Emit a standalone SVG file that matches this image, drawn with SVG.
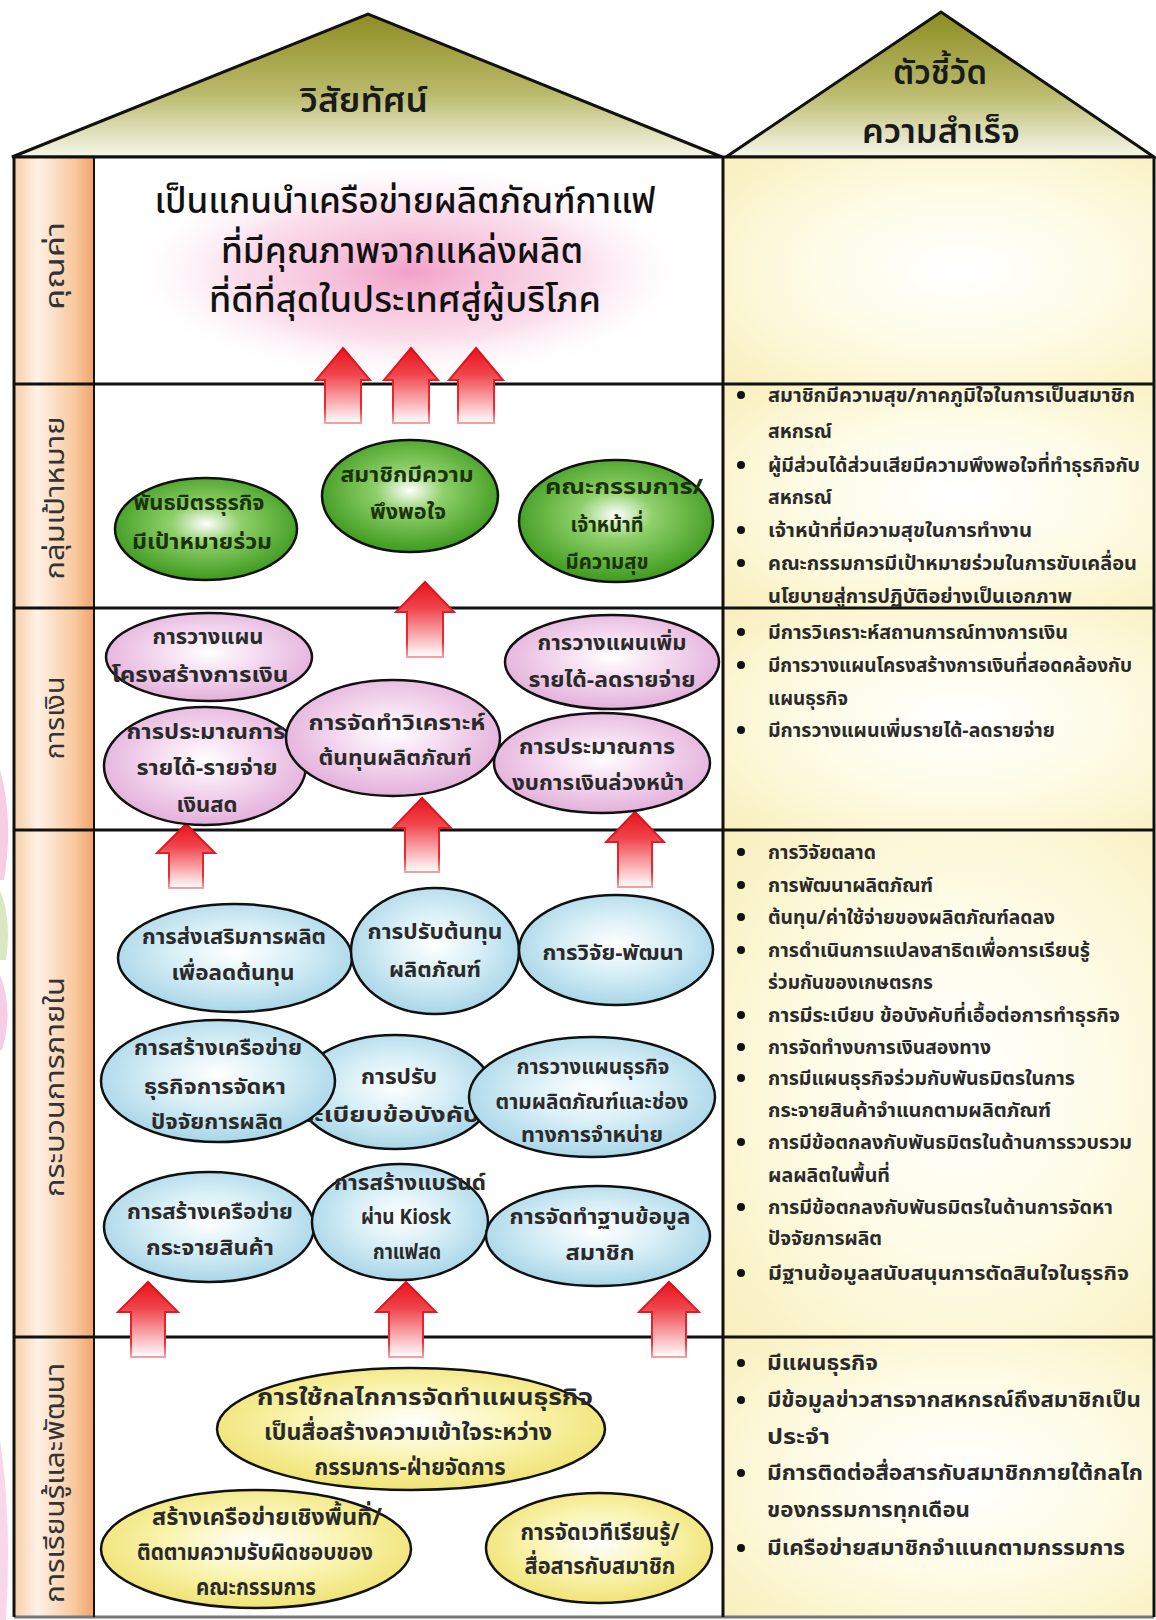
<svg xmlns="http://www.w3.org/2000/svg" width="1156" height="1620" viewBox="0 0 1156 1620">
<defs>
<style>
text{font-family:"Noto Sans Thai","Noto Sans","DejaVu Sans",sans-serif;}
.roofT{font-size:33px;font-weight:600;fill:#1a1a1a;text-anchor:middle;}
.vis{font-size:36px;font-weight:500;fill:#111;text-anchor:middle;}
.lbl{font-size:26px;fill:#333;text-anchor:middle;}
.nt{font-size:21px;font-weight:bold;fill:#2a2a2a;text-anchor:middle;}
.yt{font-size:23px;font-weight:bold;fill:#2a2a2a;text-anchor:middle;}
.gt{font-size:21px;font-weight:bold;fill:#1b330a;text-anchor:middle;}
.bt{font-size:19.5px;font-weight:bold;fill:#2a2a2a;}
.bt5{font-size:20.5px;font-weight:bold;fill:#2a2a2a;}
.ell{stroke:#111;stroke-width:2.5;}
.arrow{fill:url(#gArrow);stroke:url(#gArrowS);stroke-width:2;}
.grid{stroke:#111;stroke-width:3;fill:none;}
.dot{fill:#111;}
</style>
<linearGradient id="gRoof" x1="0" y1="0" x2="0" y2="1">
<stop offset="0" stop-color="#8d8d22"/>
<stop offset="0.55" stop-color="#b9b96a"/>
<stop offset="1" stop-color="#f7f7ea"/>
</linearGradient>
<linearGradient id="gLabel" x1="0" y1="0" x2="1" y2="0">
<stop offset="0" stop-color="#f8cfa8"/>
<stop offset="0.3" stop-color="#fdf1e6"/>
<stop offset="0.75" stop-color="#f9c99f"/>
<stop offset="1" stop-color="#f0a46a"/>
</linearGradient>
<radialGradient id="gCream" cx="0.55" cy="0.5" r="0.75">
<stop offset="0" stop-color="#ffffff"/>
<stop offset="0.5" stop-color="#fefbe4"/>
<stop offset="1" stop-color="#f8efbc"/>
</radialGradient>
<radialGradient id="gGlow" cx="0.5" cy="0.5" r="0.5">
<stop offset="0" stop-color="#f19cc6" stop-opacity="0.95"/>
<stop offset="0.6" stop-color="#f8c8de" stop-opacity="0.6"/>
<stop offset="1" stop-color="#ffffff" stop-opacity="0"/>
</radialGradient>
<radialGradient id="gGreen" cx="0.5" cy="0.45" r="0.55">
<stop offset="0" stop-color="#ffffff"/>
<stop offset="0.35" stop-color="#8fd06a"/>
<stop offset="1" stop-color="#3e9a1e"/>
</radialGradient>
<radialGradient id="gPink" cx="0.5" cy="0.45" r="0.55">
<stop offset="0" stop-color="#ffffff"/>
<stop offset="0.5" stop-color="#f3d6ee"/>
<stop offset="1" stop-color="#e3b0da"/>
</radialGradient>
<radialGradient id="gBlue" cx="0.5" cy="0.45" r="0.55">
<stop offset="0" stop-color="#ffffff"/>
<stop offset="0.5" stop-color="#d6eef6"/>
<stop offset="1" stop-color="#a9d6e8"/>
</radialGradient>
<radialGradient id="gYellow" cx="0.5" cy="0.45" r="0.55">
<stop offset="0" stop-color="#ffffff"/>
<stop offset="0.5" stop-color="#faf5b4"/>
<stop offset="1" stop-color="#efe374"/>
</radialGradient>
<linearGradient id="gArrow" x1="0" y1="0" x2="0" y2="1">
<stop offset="0" stop-color="#e8141c"/>
<stop offset="0.35" stop-color="#f0444c"/>
<stop offset="1" stop-color="#ffffff"/>
</linearGradient>
<linearGradient id="gArrowS" x1="0" y1="0" x2="0" y2="1">
<stop offset="0" stop-color="#d90f17"/>
<stop offset="0.8" stop-color="#ee2a32"/>
<stop offset="1" stop-color="#f7a0a4"/>
</linearGradient>
</defs>

<rect x="0" y="0" width="1156" height="1620" fill="#ffffff"/>

<!-- left margin decoration -->
<g id="decor" opacity="0.7">
<path d="M0,770 Q14,820 4,880 L0,880 Z" fill="#f4b8d8"/>
<path d="M0,890 Q12,920 6,960 L0,960 Z" fill="#c8e0a8"/>
<path d="M0,975 Q14,1010 2,1050 L0,1050 Z" fill="#f4b8d8"/>
<path d="M0,1440 Q12,1520 6,1620 L0,1620 Z" fill="#f6c4de"/>
</g>

<!-- roofs -->
<g id="roof-vision">
<polygon points="12,157 368,14 722,157" fill="url(#gRoof)" stroke="#111" stroke-width="3"/>
<text class="roofT" x="364" y="112" textLength="128" lengthAdjust="spacingAndGlyphs">วิสัยทัศน์</text>
</g>
<g id="roof-kpi">
<polygon points="726,157 941,12 1154,157" fill="url(#gRoof)" stroke="#111" stroke-width="3"/>
<text class="roofT" x="940" y="84" textLength="94" lengthAdjust="spacingAndGlyphs">ตัวชี้วัด</text>
<text class="roofT" x="941" y="143" textLength="158" lengthAdjust="spacingAndGlyphs">ความสำเร็จ</text>
</g>

<!-- cells -->
<g id="columns">
<rect x="14" y="157" width="80" height="1460" fill="url(#gLabel)"/>
<rect x="94" y="157" width="628" height="1460" fill="#ffffff"/>
<rect x="724" y="157" width="430" height="227" fill="url(#gCream)"/>
<rect x="724" y="384" width="430" height="224" fill="url(#gCream)"/>
<rect x="724" y="608" width="430" height="222" fill="url(#gCream)"/>
<rect x="724" y="830" width="430" height="507" fill="url(#gCream)"/>
<rect x="724" y="1337" width="430" height="280" fill="url(#gCream)"/>
<ellipse cx="410" cy="272" rx="290" ry="112" fill="url(#gGlow)"/>
</g>

<!-- grid -->
<g id="gridlines">
<line class="grid" x1="14" y1="157" x2="1154" y2="157"/>
<line class="grid" x1="14" y1="384" x2="1154" y2="384"/>
<line class="grid" x1="14" y1="608" x2="1154" y2="608"/>
<line class="grid" x1="14" y1="830" x2="1154" y2="830"/>
<line class="grid" x1="14" y1="1337" x2="1154" y2="1337"/>
<line x1="14" y1="1617" x2="1154" y2="1617" stroke="#777" stroke-width="3"/>
<line class="grid" x1="14" y1="157" x2="14" y2="1617"/>
<line x1="94" y1="157" x2="94" y2="1617" stroke="#111" stroke-width="2"/>
<line class="grid" x1="723" y1="157" x2="723" y2="1617"/>
<line class="grid" x1="1154" y1="157" x2="1154" y2="1617"/>
</g>

<!-- row labels -->
<g id="labels">
<text class="lbl" transform="translate(64,266) rotate(-90)" textLength="88" lengthAdjust="spacingAndGlyphs">คุณค่า</text>
<text class="lbl" transform="translate(64,498) rotate(-90)" textLength="163" lengthAdjust="spacingAndGlyphs">กลุ่มเป้าหมาย</text>
<text class="lbl" transform="translate(64,718) rotate(-90)" textLength="83" lengthAdjust="spacingAndGlyphs">การเงิน</text>
<text class="lbl" transform="translate(64,1087) rotate(-90)" textLength="220" lengthAdjust="spacingAndGlyphs">กระบวนการภายใน</text>
<text class="lbl" transform="translate(64,1483) rotate(-90)" textLength="240" lengthAdjust="spacingAndGlyphs">การเรียนรู้และพัฒนา</text>
</g>

<!-- vision -->
<g id="vision">
<text class="vis" x="405" y="213" textLength="501" lengthAdjust="spacingAndGlyphs">เป็นแกนนำเครือข่ายผลิตภัณฑ์กาแฟ</text>
<text class="vis" x="402" y="263" textLength="362" lengthAdjust="spacingAndGlyphs">ที่มีคุณภาพจากแหล่งผลิต</text>
<text class="vis" x="405" y="312" textLength="392" lengthAdjust="spacingAndGlyphs">ที่ดีที่สุดในประเทศสู่ผู้บริโภค</text>
</g>

<!-- connectors (block arrows) -->
<g id="connectors">
<path class="arrow" d="M343,348 L370,380 L361,380 L361,423 L325,423 L325,380 L316,380 Z"/>
<path class="arrow" d="M411,348 L438,380 L429,380 L429,423 L393,423 L393,380 L384,380 Z"/>
<path class="arrow" d="M476,348 L503,380 L494,380 L494,423 L458,423 L458,380 L449,380 Z"/>
<path class="arrow" d="M425,582 L454,612 L443,612 L443,657 L407,657 L407,612 L396,612 Z"/>
<path class="arrow" d="M186,824 L215,853 L203,853 L203,888 L169,888 L169,853 L157,853 Z"/>
<path class="arrow" d="M422,798 L451,828 L439,828 L439,872 L405,872 L405,828 L393,828 Z"/>
<path class="arrow" d="M635,812 L664,842 L652,842 L652,887 L618,887 L618,842 L606,842 Z"/>
<path class="arrow" d="M148,1282 L178,1312 L165,1312 L165,1357 L131,1357 L131,1312 L118,1312 Z"/>
<path class="arrow" d="M406,1282 L436,1312 L423,1312 L423,1357 L389,1357 L389,1312 L376,1312 Z"/>
<path class="arrow" d="M669,1282 L699,1312 L686,1312 L686,1357 L652,1357 L652,1312 L639,1312 Z"/>
</g>

<!-- customer row (green) -->
<g id="g1">
<ellipse class="ell" cx="206" cy="529" rx="91" ry="51" fill="url(#gGreen)"/>
<text class="gt" x="199" y="510" textLength="131" lengthAdjust="spacingAndGlyphs">พันธมิตรธุรกิจ</text>
<text class="gt" x="202" y="549" textLength="140" lengthAdjust="spacingAndGlyphs">มีเป้าหมายร่วม</text>
</g>
<g id="g2">
<ellipse class="ell" cx="410" cy="496" rx="88" ry="56" fill="url(#gGreen)"/>
<text class="gt" x="407" y="482" textLength="133" lengthAdjust="spacingAndGlyphs">สมาชิกมีความ</text>
<text class="gt" x="408" y="519" textLength="76" lengthAdjust="spacingAndGlyphs">พึงพอใจ</text>
</g>
<g id="g3">
<ellipse class="ell" cx="616" cy="521" rx="97" ry="61" fill="url(#gGreen)"/>
<text class="gt" x="624" y="494" textLength="158" lengthAdjust="spacingAndGlyphs">คณะกรรมการ/</text>
<text class="gt" x="607" y="532" textLength="73" lengthAdjust="spacingAndGlyphs">เจ้าหน้าที่</text>
<text class="gt" x="607" y="569" textLength="83" lengthAdjust="spacingAndGlyphs">มีความสุข</text>
</g>

<!-- finance row (pink) -->
<g id="p1">
<ellipse class="ell" cx="209" cy="657" rx="103" ry="44" fill="url(#gPink)"/>
<text class="nt" x="208" y="644" textLength="111" lengthAdjust="spacingAndGlyphs">การวางแผน</text>
<text class="nt" x="200" y="682" textLength="177" lengthAdjust="spacingAndGlyphs">โครงสร้างการเงิน</text>
</g>
<g id="p2">
<ellipse class="ell" cx="612" cy="662" rx="107" ry="47" fill="url(#gPink)"/>
<text class="nt" x="612" y="650" textLength="149" lengthAdjust="spacingAndGlyphs">การวางแผนเพิ่ม</text>
<text class="nt" x="612" y="687" textLength="167" lengthAdjust="spacingAndGlyphs">รายได้-ลดรายจ่าย</text>
</g>
<g id="p3">
<ellipse class="ell" cx="205" cy="766" rx="101" ry="59" fill="url(#gPink)"/>
<text class="nt" x="206" y="739" textLength="159" lengthAdjust="spacingAndGlyphs">การประมาณการ</text>
<text class="nt" x="207" y="775" textLength="141" lengthAdjust="spacingAndGlyphs">รายได้-รายจ่าย</text>
<text class="nt" x="207" y="812" textLength="61" lengthAdjust="spacingAndGlyphs">เงินสด</text>
</g>
<g id="p4">
<ellipse class="ell" cx="393" cy="738" rx="107" ry="58" fill="url(#gPink)"/>
<text class="nt" x="397" y="730" textLength="177" lengthAdjust="spacingAndGlyphs">การจัดทำวิเคราะห์</text>
<text class="nt" x="395" y="765" textLength="153" lengthAdjust="spacingAndGlyphs">ต้นทุนผลิตภัณฑ์</text>
</g>
<g id="p5">
<ellipse class="ell" cx="602" cy="763" rx="108" ry="50" fill="url(#gPink)"/>
<text class="nt" x="597" y="754" textLength="156" lengthAdjust="spacingAndGlyphs">การประมาณการ</text>
<text class="nt" x="598" y="790" textLength="172" lengthAdjust="spacingAndGlyphs">งบการเงินล่วงหน้า</text>
</g>

<!-- internal process row (blue) -->
<g id="b1">
<ellipse class="ell" cx="235" cy="958" rx="117" ry="54" fill="url(#gBlue)"/>
<text class="nt" x="234" y="944" textLength="184" lengthAdjust="spacingAndGlyphs">การส่งเสริมการผลิต</text>
<text class="nt" x="233" y="980" textLength="123" lengthAdjust="spacingAndGlyphs">เพื่อลดต้นทุน</text>
</g>
<g id="b2">
<ellipse class="ell" cx="435" cy="951" rx="84" ry="63" fill="url(#gBlue)"/>
<text class="nt" x="435" y="939" textLength="135" lengthAdjust="spacingAndGlyphs">การปรับต้นทุน</text>
<text class="nt" x="435" y="977" textLength="92" lengthAdjust="spacingAndGlyphs">ผลิตภัณฑ์</text>
</g>
<g id="b3">
<ellipse class="ell" cx="616" cy="950" rx="97" ry="55" fill="url(#gBlue)"/>
<text class="nt" x="613" y="960" textLength="141" lengthAdjust="spacingAndGlyphs">การวิจัย-พัฒนา</text>
</g>
<g id="b5">
<ellipse class="ell" cx="395" cy="1092" rx="98" ry="57" fill="url(#gBlue)"/>
<text class="nt" x="399" y="1084" textLength="76" lengthAdjust="spacingAndGlyphs">การปรับ</text>
<text class="nt" x="390" y="1122" textLength="179" lengthAdjust="spacingAndGlyphs">ระเบียบข้อบังคับ</text>
</g>
<g id="b4">
<ellipse class="ell" cx="218" cy="1081" rx="117" ry="61" fill="url(#gBlue)"/>
<text class="nt" x="218" y="1055" textLength="168" lengthAdjust="spacingAndGlyphs">การสร้างเครือข่าย</text>
<text class="nt" x="215" y="1094" textLength="142" lengthAdjust="spacingAndGlyphs">ธุรกิจการจัดหา</text>
<text class="nt" x="217" y="1129" textLength="132" lengthAdjust="spacingAndGlyphs">ปัจจัยการผลิต</text>
</g>
<g id="b6">
<ellipse class="ell" cx="592" cy="1097" rx="123" ry="60" fill="url(#gBlue)"/>
<text class="nt" x="593" y="1074" textLength="153" lengthAdjust="spacingAndGlyphs">การวางแผนธุรกิจ</text>
<text class="nt" x="592" y="1109" textLength="193" lengthAdjust="spacingAndGlyphs">ตามผลิตภัณฑ์และช่อง</text>
<text class="nt" x="592" y="1142" textLength="142" lengthAdjust="spacingAndGlyphs">ทางการจำหน่าย</text>
</g>
<g id="b7">
<ellipse class="ell" cx="209" cy="1227" rx="105" ry="55" fill="url(#gBlue)"/>
<text class="nt" x="210" y="1219" textLength="166" lengthAdjust="spacingAndGlyphs">การสร้างเครือข่าย</text>
<text class="nt" x="210" y="1255" textLength="128" lengthAdjust="spacingAndGlyphs">กระจายสินค้า</text>
</g>
<g id="b8">
<ellipse class="ell" cx="400" cy="1222" rx="88" ry="58" fill="url(#gBlue)"/>
<text class="nt" x="410" y="1190" textLength="152" lengthAdjust="spacingAndGlyphs">การสร้างแบรนด์</text>
<text class="nt" x="406" y="1224" textLength="90" lengthAdjust="spacingAndGlyphs">ผ่าน Kiosk</text>
<text class="nt" x="407" y="1259" textLength="68" lengthAdjust="spacingAndGlyphs">กาแฟสด</text>
</g>
<g id="b9">
<ellipse class="ell" cx="598" cy="1236" rx="112" ry="50" fill="url(#gBlue)"/>
<text class="nt" x="600" y="1224" textLength="181" lengthAdjust="spacingAndGlyphs">การจัดทำฐานข้อมูล</text>
<text class="nt" x="600" y="1260" textLength="69" lengthAdjust="spacingAndGlyphs">สมาชิก</text>
</g>

<!-- learning row (yellow) -->
<g id="y1">
<ellipse class="ell" cx="411" cy="1429" rx="194" ry="61" fill="url(#gYellow)"/>
<text class="yt" x="425" y="1405" textLength="336" lengthAdjust="spacingAndGlyphs">การใช้กลไกการจัดทำแผนธุรกิจ</text>
<text class="yt" x="408" y="1440" textLength="288" lengthAdjust="spacingAndGlyphs">เป็นสื่อสร้างความเข้าใจระหว่าง</text>
<text class="yt" x="410" y="1475" textLength="191" lengthAdjust="spacingAndGlyphs">กรรมการ-ฝ่ายจัดการ</text>
</g>
<g id="y2">
<ellipse class="ell" cx="256" cy="1549" rx="155" ry="59" fill="url(#gYellow)"/>
<text class="yt" x="267" y="1525" textLength="230" lengthAdjust="spacingAndGlyphs">สร้างเครือข่ายเชิงพื้นที่/</text>
<text class="yt" x="255" y="1560" textLength="236" lengthAdjust="spacingAndGlyphs">ติดตามความรับผิดชอบของ</text>
<text class="yt" x="256" y="1595" textLength="120" lengthAdjust="spacingAndGlyphs">คณะกรรมการ</text>
</g>
<g id="y3">
<ellipse class="ell" cx="599" cy="1548" rx="113" ry="55" fill="url(#gYellow)"/>
<text class="yt" x="600" y="1540" textLength="159" lengthAdjust="spacingAndGlyphs">การจัดเวทีเรียนรู้/</text>
<text class="yt" x="600" y="1574" textLength="151" lengthAdjust="spacingAndGlyphs">สื่อสารกับสมาชิก</text>
</g>

<!-- indicators -->
<g id="kpi-customer">
<circle class="dot" cx="741" cy="395" r="4"/>
<text class="bt" x="768" y="402" textLength="367" lengthAdjust="spacingAndGlyphs">สมาชิกมีความสุข/ภาคภูมิใจในการเป็นสมาชิก</text>
<text class="bt" x="768" y="438" textLength="64" lengthAdjust="spacingAndGlyphs">สหกรณ์</text>
<circle class="dot" cx="741" cy="465" r="4"/>
<text class="bt" x="768" y="472" textLength="372" lengthAdjust="spacingAndGlyphs">ผู้มีส่วนได้ส่วนเสียมีความพึงพอใจที่ทำธุรกิจกับ</text>
<text class="bt" x="768" y="504" textLength="64" lengthAdjust="spacingAndGlyphs">สหกรณ์</text>
<circle class="dot" cx="741" cy="530" r="4"/>
<text class="bt" x="768" y="537" textLength="264" lengthAdjust="spacingAndGlyphs">เจ้าหน้าที่มีความสุขในการทำงาน</text>
<circle class="dot" cx="741" cy="563" r="4"/>
<text class="bt" x="768" y="570" textLength="369" lengthAdjust="spacingAndGlyphs">คณะกรรมการมีเป้าหมายร่วมในการขับเคลื่อน</text>
<text class="bt" x="768" y="603" textLength="304" lengthAdjust="spacingAndGlyphs">นโยบายสู่การปฏิบัติอย่างเป็นเอกภาพ</text>
</g>
<g id="kpi-finance">
<circle class="dot" cx="741" cy="632" r="4"/>
<text class="bt" x="768" y="639" textLength="300" lengthAdjust="spacingAndGlyphs">มีการวิเคราะห์สถานการณ์ทางการเงิน</text>
<circle class="dot" cx="741" cy="665" r="4"/>
<text class="bt" x="768" y="672" textLength="364" lengthAdjust="spacingAndGlyphs">มีการวางแผนโครงสร้างการเงินที่สอดคล้องกับ</text>
<text class="bt" x="768" y="705" textLength="80" lengthAdjust="spacingAndGlyphs">แผนธุรกิจ</text>
<circle class="dot" cx="741" cy="730" r="4"/>
<text class="bt" x="768" y="737" textLength="287" lengthAdjust="spacingAndGlyphs">มีการวางแผนเพิ่มรายได้-ลดรายจ่าย</text>
</g>
<g id="kpi-process">
<circle class="dot" cx="741" cy="852" r="4"/>
<text class="bt" x="768" y="859" textLength="108" lengthAdjust="spacingAndGlyphs">การวิจัยตลาด</text>
<circle class="dot" cx="741" cy="885" r="4"/>
<text class="bt" x="768" y="892" textLength="165" lengthAdjust="spacingAndGlyphs">การพัฒนาผลิตภัณฑ์</text>
<circle class="dot" cx="741" cy="917" r="4"/>
<text class="bt" x="768" y="924" textLength="287" lengthAdjust="spacingAndGlyphs">ต้นทุน/ค่าใช้จ่ายของผลิตภัณฑ์ลดลง</text>
<circle class="dot" cx="741" cy="950" r="4"/>
<text class="bt" x="768" y="957" textLength="322" lengthAdjust="spacingAndGlyphs">การดำเนินการแปลงสาธิตเพื่อการเรียนรู้</text>
<text class="bt" x="768" y="989" textLength="165" lengthAdjust="spacingAndGlyphs">ร่วมกันของเกษตรกร</text>
<circle class="dot" cx="741" cy="1015" r="4"/>
<text class="bt" x="768" y="1022" textLength="352" lengthAdjust="spacingAndGlyphs">การมีระเบียบ ข้อบังคับที่เอื้อต่อการทำธุรกิจ</text>
<circle class="dot" cx="741" cy="1047" r="4"/>
<text class="bt" x="768" y="1054" textLength="223" lengthAdjust="spacingAndGlyphs">การจัดทำงบการเงินสองทาง</text>
<circle class="dot" cx="741" cy="1078" r="4"/>
<text class="bt" x="768" y="1085" textLength="307" lengthAdjust="spacingAndGlyphs">การมีแผนธุรกิจร่วมกับพันธมิตรในการ</text>
<text class="bt" x="768" y="1117" textLength="283" lengthAdjust="spacingAndGlyphs">กระจายสินค้าจำแนกตามผลิตภัณฑ์</text>
<circle class="dot" cx="741" cy="1142" r="4"/>
<text class="bt" x="768" y="1149" textLength="364" lengthAdjust="spacingAndGlyphs">การมีข้อตกลงกับพันธมิตรในด้านการรวบรวม</text>
<text class="bt" x="768" y="1182" textLength="122" lengthAdjust="spacingAndGlyphs">ผลผลิตในพื้นที่</text>
<circle class="dot" cx="741" cy="1207" r="4"/>
<text class="bt" x="768" y="1214" textLength="345" lengthAdjust="spacingAndGlyphs">การมีข้อตกลงกับพันธมิตรในด้านการจัดหา</text>
<text class="bt" x="768" y="1245" textLength="114" lengthAdjust="spacingAndGlyphs">ปัจจัยการผลิต</text>
<circle class="dot" cx="741" cy="1273" r="4"/>
<text class="bt" x="768" y="1280" textLength="361" lengthAdjust="spacingAndGlyphs">มีฐานข้อมูลสนับสนุนการตัดสินใจในธุรกิจ</text>
</g>
<g id="kpi-learning">
<circle class="dot" cx="741" cy="1363" r="4"/>
<text class="bt5" x="767" y="1370" textLength="111" lengthAdjust="spacingAndGlyphs">มีแผนธุรกิจ</text>
<circle class="dot" cx="741" cy="1400" r="4"/>
<text class="bt5" x="767" y="1407" textLength="374" lengthAdjust="spacingAndGlyphs">มีข้อมูลข่าวสารจากสหกรณ์ถึงสมาชิกเป็น</text>
<text class="bt5" x="767" y="1444" textLength="63" lengthAdjust="spacingAndGlyphs">ประจำ</text>
<circle class="dot" cx="741" cy="1473" r="4"/>
<text class="bt5" x="767" y="1480" textLength="376" lengthAdjust="spacingAndGlyphs">มีการติดต่อสื่อสารกับสมาชิกภายใต้กลไก</text>
<text class="bt5" x="767" y="1517" textLength="203" lengthAdjust="spacingAndGlyphs">ของกรรมการทุกเดือน</text>
<circle class="dot" cx="741" cy="1548" r="4"/>
<text class="bt5" x="767" y="1555" textLength="358" lengthAdjust="spacingAndGlyphs">มีเครือข่ายสมาชิกจำแนกตามกรรมการ</text>
</g>
</svg>
